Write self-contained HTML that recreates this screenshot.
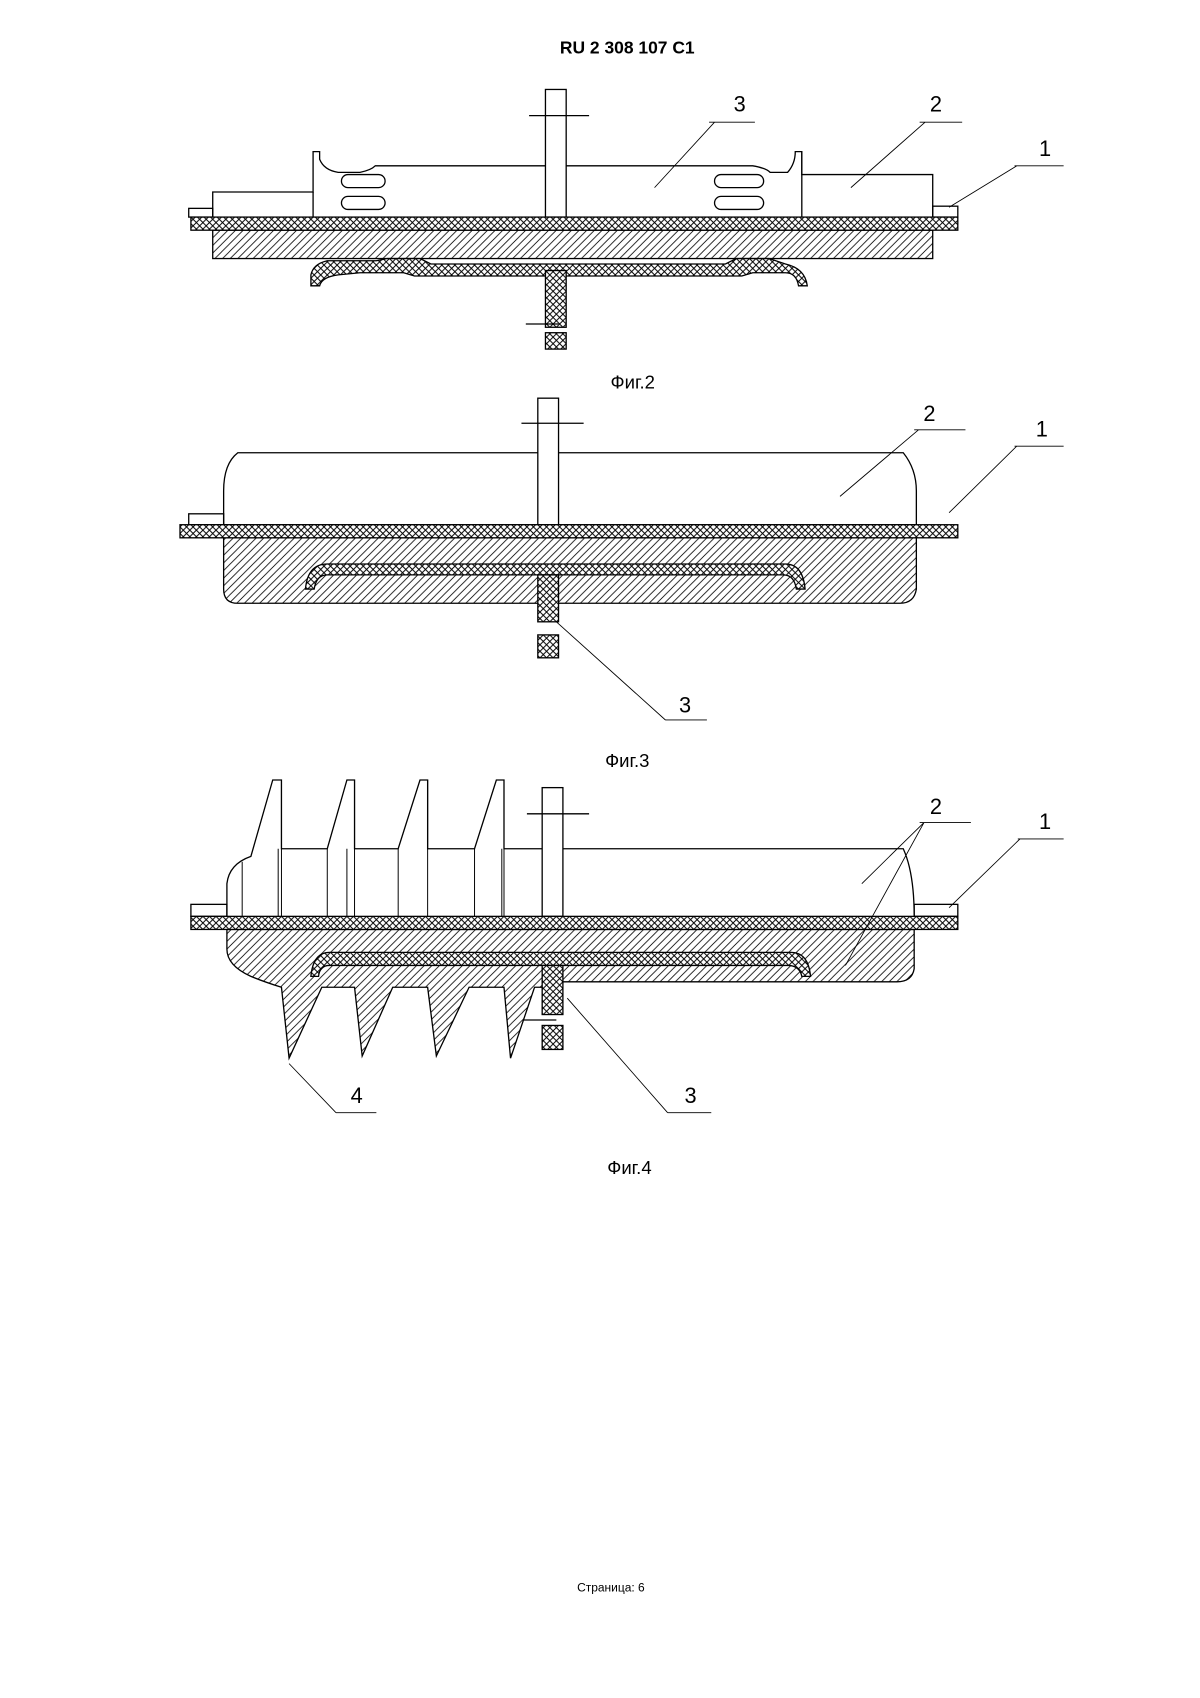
<!DOCTYPE html>
<html><head><meta charset="utf-8"><style>
html,body{margin:0;padding:0;background:#fff;}
svg{display:block;}
text{font-family:"Liberation Sans",sans-serif;fill:#000;}
</style></head><body>
<svg width="1200" height="1698" viewBox="0 0 1200 1698" xmlns="http://www.w3.org/2000/svg">
<defs>
<pattern id="ch" width="6" height="6" patternUnits="userSpaceOnUse">
<rect width="6" height="6" fill="#fff"/>
<path d="M0 0L6 6M6 0L0 6" stroke="#000" stroke-width="0.9"/>
</pattern>
<pattern id="hh" width="7" height="7" patternUnits="userSpaceOnUse">
<rect width="7" height="7" fill="#fff"/>
<path d="M-1 8L8 -1M-1 1L1 -1M6 8L8 6" stroke="#000" stroke-width="0.7"/>
</pattern>
</defs>
<g stroke="#000" stroke-width="1.2" fill="none" transform="scale(1.0909)">
<text x="575" y="49" text-anchor="middle" font-size="16" font-weight="bold" stroke="none">RU   2 308 107   C1</text>

<!-- FIG 2 -->
<rect x="195" y="211" width="660" height="26" fill="url(#hh)"/>
<path d="M195 199V176H287V139H293V146Q297 156 310 158H330Q340 156 344 152H500M519 152H690Q702 154 706 158H722Q729 150 729 139H735V160H855V199"/>
<path d="M735 139V199M287 176V199"/>
<rect x="313" y="160" width="40" height="12" rx="6"/><rect x="313" y="180" width="40" height="12" rx="6"/>
<rect x="655" y="160" width="45" height="12" rx="6"/><rect x="655" y="180" width="45" height="12" rx="6"/>
<rect x="173" y="191" width="22" height="8"/><rect x="855" y="189" width="23" height="10"/>
<rect x="500" y="82" width="19" height="117" fill="#fff"/>
<path d="M485 106H540"/>
<rect x="175" y="199" width="703" height="12" fill="url(#ch)"/>
<path d="M285 262V252Q287 242 300 239H345L355 237H385L395 242H665L675 237H705L720 242Q738 246 740 262H732Q730 250 720 250H690L680 253H380L370 250H330L310 252Q295 254 293 262Z" fill="url(#ch)"/>
<rect x="500" y="248" width="19" height="52" fill="url(#ch)"/>
<rect x="500" y="305" width="19" height="15" fill="url(#ch)"/>
<path d="M482 297H512"/>
<text x="678" y="102" font-size="20" stroke="none" text-anchor="middle">3</text>
<path d="M650 112H692M655 112L600 172" stroke-width="0.8"/>
<text x="858" y="102" font-size="20" stroke="none" text-anchor="middle">2</text>
<path d="M843 112H882M848 112L780 172" stroke-width="0.8"/>
<text x="958" y="143" font-size="20" stroke="none" text-anchor="middle">1</text>
<path d="M930 152H975M932 152L870 190" stroke-width="0.8"/>
<text x="580" y="356" font-size="17" stroke="none" text-anchor="middle">Фиг.2</text>

<!-- FIG 3 -->
<path d="M205 493H840V540Q838 553 825 553H218Q205 553 205 540Z" fill="url(#hh)"/>
<path d="M218 415H828Q840 430 840 450V481H205V450Q205 425 218 415Z"/>
<rect x="173" y="471" width="32" height="10"/>
<rect x="493" y="365" width="19" height="116" fill="#fff"/>
<path d="M478 388H535"/>
<rect x="165" y="481" width="713" height="12" fill="url(#ch)"/>
<path d="M280 540Q282 517 300 517H720Q736 517 738 540H730Q728 527 718 527H300Q290 527 288 540Z" fill="url(#ch)"/>
<rect x="493" y="527" width="19" height="43" fill="url(#ch)"/>
<rect x="493" y="582" width="19" height="21" fill="url(#ch)"/>
<text x="852" y="386" font-size="20" stroke="none" text-anchor="middle">2</text>
<path d="M838 394H885M842 394L770 455" stroke-width="0.8"/>
<text x="955" y="400" font-size="20" stroke="none" text-anchor="middle">1</text>
<path d="M930 409H975M932 409L870 470" stroke-width="0.8"/>
<text x="628" y="653" font-size="20" stroke="none" text-anchor="middle">3</text>
<path d="M610 660H648M610 660L510 570" stroke-width="0.8"/>
<text x="575" y="703" font-size="17" stroke="none" text-anchor="middle">Фиг.3</text>

<!-- FIG 4 -->
<path d="M208 852H838V888Q836 900 822 900H500V905H490L468 970L462 905H430L400 968L392 905H360L332 968L325 905H295L265 970L258 905Q242 900 230 895Q208 885 208 870Z" fill="url(#hh)"/>
<path d="M208 840V810Q210 792 230 785L250 715H258V778L300 778L318 715H325V778H365L385 715H392V778H435L455 715H462V778H828Q838 800 838 840"/>
<path d="M222 790V840M255 778V840M300 778V840M318 778V840M365 778V840M392 778V840M435 778V840M460 778V840M258 715V840M325 715V840M392 715V840M462 715V840" stroke-width="0.9"/>
<rect x="175" y="829" width="33" height="11"/><rect x="838" y="829" width="40" height="11"/>
<rect x="497" y="722" width="19" height="118" fill="#fff"/>
<path d="M483 746H540"/>
<rect x="175" y="840" width="703" height="12" fill="url(#ch)"/>
<path d="M285 895Q287 873 302 873H725Q741 873 743 895H735Q733 885 722 885H302Q293 885 292 895Z" fill="url(#ch)"/>
<rect x="497" y="885" width="19" height="45" fill="url(#ch)"/>
<rect x="497" y="940" width="19" height="22" fill="url(#ch)"/>
<path d="M480 935H510"/>
<text x="858" y="746" font-size="20" stroke="none" text-anchor="middle">2</text>
<path d="M843 754H890M847 754L790 810M847 754L775 885" stroke-width="0.8"/>
<text x="958" y="760" font-size="20" stroke="none" text-anchor="middle">1</text>
<path d="M933 769H975M935 769L870 832" stroke-width="0.8"/>
<text x="633" y="1011" font-size="20" stroke="none" text-anchor="middle">3</text>
<path d="M612 1020H652M612 1020L520 915" stroke-width="0.8"/>
<text x="327" y="1011" font-size="20" stroke="none" text-anchor="middle">4</text>
<path d="M308 1020H345M308 1020L265 975" stroke-width="0.8"/>
<text x="577" y="1076" font-size="17" stroke="none" text-anchor="middle">Фиг.4</text>

<text x="560" y="1459" font-size="11" stroke="none" text-anchor="middle">Страница: 6</text>
</g>
</svg>
</body></html>
